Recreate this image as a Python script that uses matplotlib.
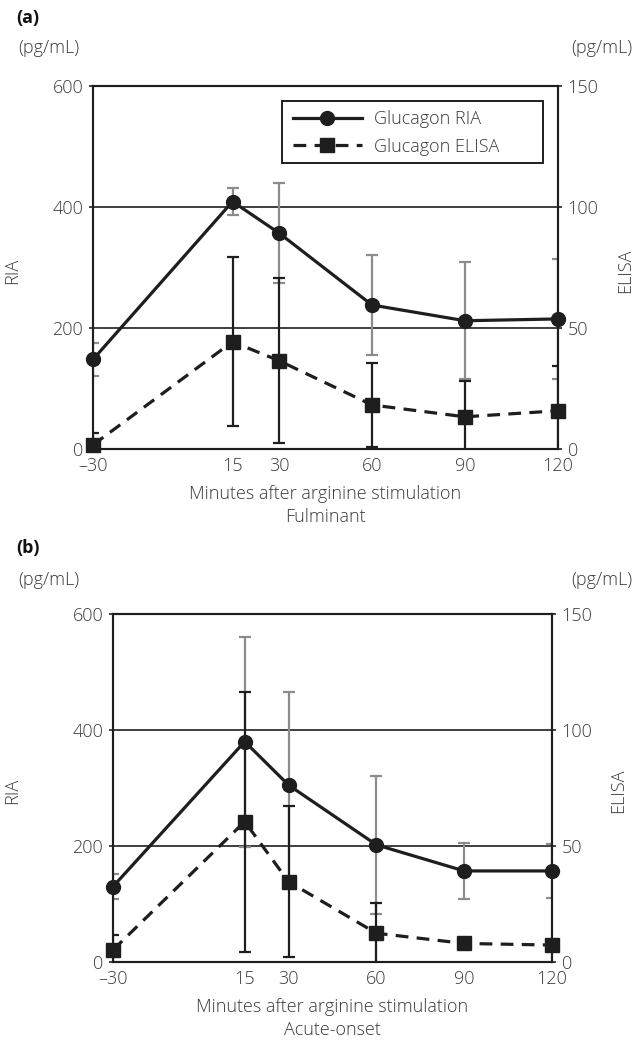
import numpy as np
import matplotlib.pyplot as plt
from matplotlib.patches import Rectangle

plt.rcParams['font.family'] = ['Open Sans', 'DejaVu Sans']
plt.rcParams['font.weight'] = 'light'
plt.rcParams['text.color'] = '#3a3a3a'
plt.rcParams['xtick.color'] = '#222222'
plt.rcParams['ytick.color'] = '#222222'
plt.rcParams['xtick.labelcolor'] = '#3a3a3a'
plt.rcParams['ytick.labelcolor'] = '#3a3a3a'

# Time points (minutes after arginine stimulation)
minutes = [-30, 15, 30, 60, 90, 120]
xtick_labels = ['\u201330', '15', '30', '60', '90', '120']

# (a) Fulminant
ful_ria = [148, 409, 357, 238, 212, 215]
ful_ria_err = [27, 22, 82, 83, 97, 99]
ful_elisa = [1.7, 44.3, 36.5, 18.2, 13.3, 15.8]
ful_elisa_err = [5, 35, 34, 17.5, 15, 18.5]

# (b) Acute-onset
acu_ria = [130, 380, 305, 202, 157, 157]
acu_ria_err = [21, 181, 161, 119, 48, 47]
acu_elisa = [5.2, 60.5, 34.6, 12.4, 8, 7.3]
acu_elisa_err = [6.5, 56, 32.5, 13, 2, 2]

W, H = 635, 1044
fig = plt.figure(figsize=(W / 100, H / 100), dpi=100)

dark = '#1e1e1e'
fs = 13


def px(x, y):
    return x / W, 1 - y / H


def draw_panel(left, top, right, bottom, ria, ria_err, elisa, elisa_err,
               tag, cond, tag_y, unit_y, ria_lab_x, elisa_lab_x, legend=False):
    ax = fig.add_axes([left / W, 1 - bottom / H, (right - left) / W, (bottom - top) / H])
    ax2 = ax.twinx()

    ax.set_xlim(-30, 120)
    ax.set_ylim(0, 600)
    ax2.set_ylim(0, 150)
    ax.set_yticks([0, 200, 400, 600])
    ax2.set_yticks([0, 50, 100, 150])
    ax.set_xticks(minutes)
    ax.set_xticklabels(xtick_labels)

    for a in (ax, ax2):
        for s in a.spines.values():
            s.set_linewidth(1.5)
            s.set_color(dark)
    ax.tick_params(axis='x', length=0, labelsize=fs, pad=6)
    ax.tick_params(axis='y', length=3, width=1.2, labelsize=fs, pad=4)
    ax2.tick_params(axis='y', length=3, width=1.2, labelsize=fs, pad=4)

    for g in (200, 400):
        ax.axhline(g, color=dark, lw=1.2, zorder=1)

    # RIA (left axis)
    ax.errorbar(minutes, ria, yerr=ria_err, fmt='none', ecolor='#8c8c8c',
                elinewidth=1.6, capsize=4.5, capthick=1.6, zorder=2)
    ria_line, = ax.plot(minutes, ria, color=dark, lw=2.3, marker='o',
                        markersize=10, clip_on=False, zorder=4,
                        label='Glucagon RIA')

    # ELISA (right axis)
    ax2.errorbar(minutes, elisa, yerr=elisa_err, fmt='none', ecolor=dark,
                 elinewidth=1.6, capsize=4.5, capthick=1.6, zorder=2)
    el_line, = ax2.plot(minutes, elisa, color=dark, lw=2.3, ls=(0, (4, 2.6)),
                        marker='s', markersize=9.5, clip_on=False, zorder=4,
                        label='Glucagon ELISA')

    x_mid = (left + right) / 2
    fig.text(*px(x_mid, bottom + 45), 'Minutes after arginine stimulation',
             ha='center', va='center', fontsize=fs)
    fig.text(*px(x_mid, bottom + 68), cond, ha='center', va='center', fontsize=fs)

    fig.text(*px(16, tag_y), tag, ha='left', va='center', fontsize=fs,
             fontweight='bold', color='#111111')
    fig.text(*px(18, unit_y), '(pg/mL)', ha='left', va='center', fontsize=fs)
    fig.text(*px(632, unit_y), '(pg/mL)', ha='right', va='center', fontsize=fs)

    ymid = (top + bottom) / 2
    fig.text(*px(ria_lab_x, ymid + 3), 'RIA', rotation=90, ha='center',
             va='center', fontsize=fs)
    fig.text(*px(elisa_lab_x, ymid + 3), 'ELISA', rotation=90, ha='center',
             va='center', fontsize=fs)

    if legend:
        # legend box frame
        fig.patches.append(Rectangle(px(282, 163), 261 / W, 62 / H,
                                     transform=fig.transFigure, fill=True,
                                     facecolor='white', edgecolor=dark,
                                     lw=1.4, zorder=9))
        leg = fig.legend(handles=[ria_line, el_line], loc='center left',
                         bbox_to_anchor=px(293, 133), fontsize=fs,
                         frameon=False, handlelength=3.8, borderpad=0,
                         labelspacing=0.5, handletextpad=0.7,
                         borderaxespad=0)
        leg.set_zorder(10)


draw_panel(93, 86, 558, 449, ful_ria, ful_ria_err, ful_elisa, ful_elisa_err,
           '(a)', 'Fulminant', 18, 48, 12, 625, legend=True)
draw_panel(113, 614, 552, 962, acu_ria, acu_ria_err, acu_elisa, acu_elisa_err,
           '(b)', 'Acute-onset', 548, 580, 12, 618)

fig.savefig('out.png', dpi=100)
